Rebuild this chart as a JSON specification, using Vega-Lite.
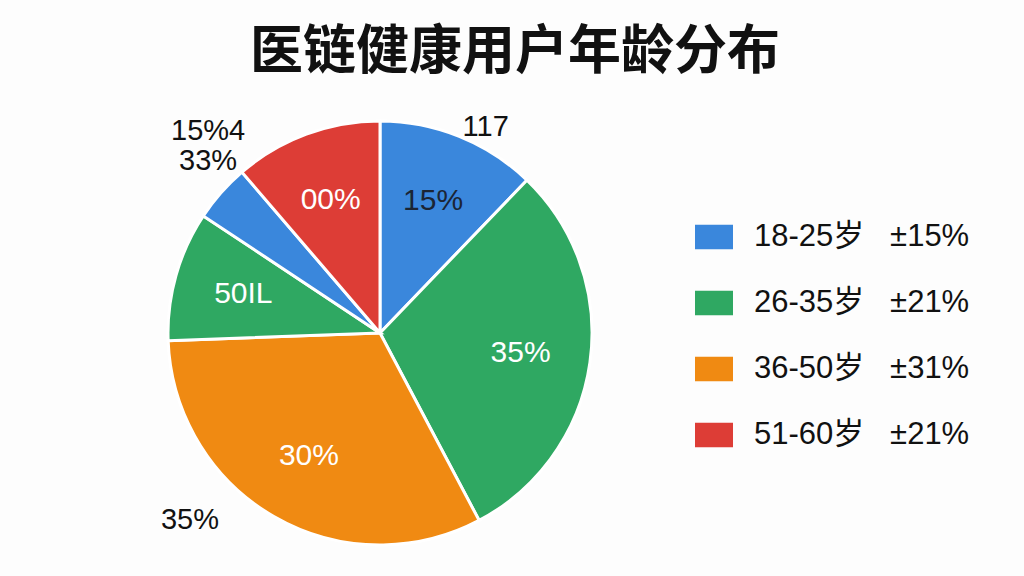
{
  "$schema": "https://vega.github.io/schema/vega-lite/v6.json",
  "width": 760,
  "height": 576,
  "autosize": "none",
  "padding": {"left": 0, "top": 0, "right": 264, "bottom": 0},
  "background": "#fdfdfd",
  "config": {"view": {"stroke": null, "fill": null}},
  "title": {
    "text": "医链健康用户年龄分布",
    "font": "Noto Sans CJK SC",
    "fontSize": 53,
    "fontWeight": "bold",
    "color": "#111111",
    "anchor": "middle",
    "offset": 0,
    "dx": 135,
    "dy": 80
  },
  "data": {
    "values": [
      {"order": 1, "group": "18-25岁", "value": 12.2, "label": "15%", "outer": "117"},
      {"order": 2, "group": "26-35岁", "value": 30.1, "label": "35%", "outer": ""},
      {"order": 3, "group": "36-50岁", "value": 32.2, "label": "30%", "outer": "35%"},
      {"order": 4, "group": "26-35岁", "value": 9.9, "label": "50IL", "outer": ""},
      {"order": 5, "group": "18-25岁", "value": 4.4, "label": "", "outer": "15%4\n33%"},
      {"order": 6, "group": "51-60岁", "value": 11.3, "label": "00%", "outer": ""}
    ]
  },
  "encoding": {
    "theta": {"field": "value", "type": "quantitative", "stack": true},
    "order": {"field": "order", "type": "quantitative", "sort": "ascending"}
  },
  "layer": [
    {
      "mark": {"type": "arc", "outerRadius": 212, "stroke": "white", "strokeWidth": 3},
      "encoding": {
        "y": {"value": 333},
        "color": {
          "field": "group",
          "type": "nominal",
          "scale": {
            "domain": ["18-25岁", "26-35岁", "36-50岁", "51-60岁"],
            "range": ["#3a87dc", "#2fa862", "#f08a12", "#dd3d36"]
          },
          "legend": {
            "title": null,
            "orient": "none",
            "legendX": 695,
            "legendY": 218,
            "padding": 0,
            "symbolType": "M-1,-0.65H1V0.65H-1Z",
            "symbolSize": 1444,
            "symbolStrokeWidth": 0,
            "rowPadding": 32,
            "labelOffset": 21,
            "labelFont": "Liberation Sans, Noto Sans CJK SC",
            "labelFontSize": 31,
            "labelColor": "#111111",
            "labelLimit": 400,
            "labelExpr": "datum.label == '18-25岁' ? '18-25岁\u00a0\u00a0\u00a0±15%' : datum.label == '26-35岁' ? '26-35岁\u00a0\u00a0\u00a0±21%' : datum.label == '36-50岁' ? '36-50岁\u00a0\u00a0\u00a0±31%' : '51-60岁\u00a0\u00a0\u00a0±21%'"
          }
        }
      }
    },
    {
      "mark": {"type": "text", "radius": 142, "fontSize": 30, "font": "Liberation Sans, Noto Sans CJK SC"},
      "encoding": {
        "y": {"value": 333},
        "text": {"field": "label", "type": "nominal"},
        "color": {"condition": {"test": "datum.label == '15%'", "value": "#1b2535"}, "value": "white"}
      }
    },
    {
      "mark": {"type": "text", "radius": 240, "fontSize": 29, "font": "Liberation Sans, Noto Sans CJK SC", "color": "#111111", "dx": 16, "dy": 17},
      "encoding": {
        "y": {"value": 333},
        "text": {"condition": {"test": "datum.order == 1", "field": "outer"}, "value": ""}
      }
    },
    {
      "mark": {"type": "text", "radius": 240, "fontSize": 29, "font": "Liberation Sans, Noto Sans CJK SC", "color": "#111111", "dx": -70, "dy": -21},
      "encoding": {
        "y": {"value": 333},
        "text": {"condition": {"test": "datum.order == 3", "field": "outer"}, "value": ""}
      }
    },
    {
      "mark": {"type": "text", "radius": 240, "fontSize": 29, "font": "Liberation Sans, Noto Sans CJK SC", "color": "#111111", "dx": 8, "dy": -43, "lineBreak": "\n", "lineHeight": 30},
      "encoding": {
        "y": {"value": 333},
        "text": {"condition": {"test": "datum.order == 5", "field": "outer"}, "value": ""}
      }
    }
  ]
}
